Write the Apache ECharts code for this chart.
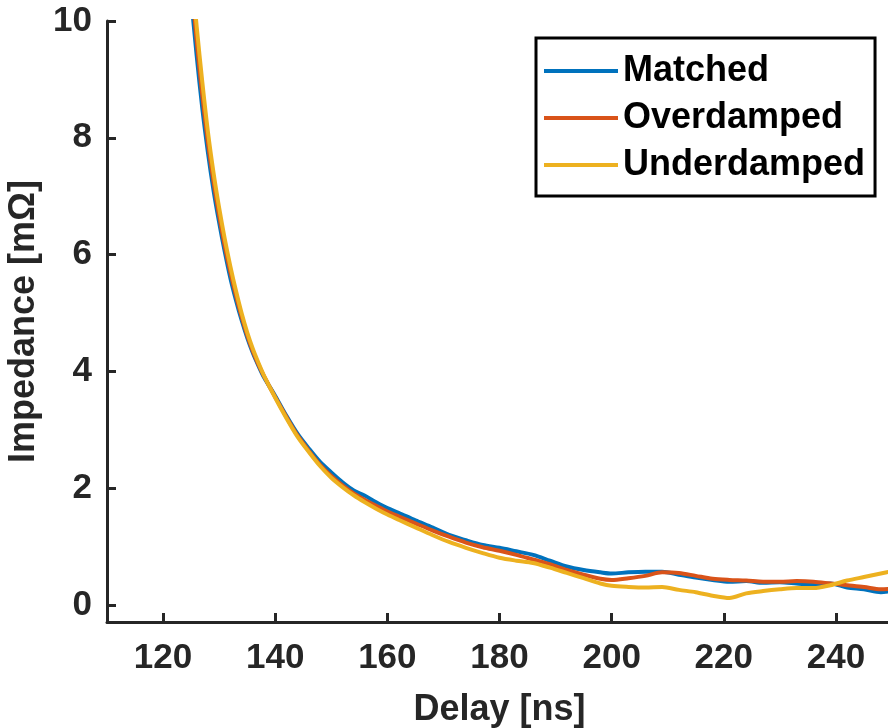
<!DOCTYPE html>
<html>
<head>
<meta charset="utf-8">
<script src="https://cdn.jsdelivr.net/npm/echarts@6/dist/echarts.min.js"></script>
<style>html,body{margin:0;padding:0;background:#fff}#c{width:888px;height:728px}</style>
</head>
<body>
<div id="c"></div>
<script>
const delay = [124,125,126,127,128,129,130,131,132,133,134,135,136,137,138,140,142,144,146,148,150,152,154,156,158,160,162,165,168,171,174,177,180,183,186,189,192,195,198,200,203,206,209,212,215,218,221,224,227,230,233,236,239,242,245,248,250];
const matched = [11.4,10.4,9.4,8.5,7.75,7.1,6.55,6.05,5.6,5.22,4.88,4.58,4.32,4.1,3.9,3.58,3.24,2.93,2.68,2.45,2.27,2.1,1.96,1.87,1.76,1.66,1.58,1.45,1.33,1.2,1.11,1.03,0.98,0.92,0.86,0.76,0.66,0.6,0.56,0.54,0.56,0.57,0.57,0.52,0.47,0.43,0.4,0.41,0.38,0.39,0.37,0.35,0.37,0.3,0.27,0.22,0.24];
const overdamped = [11.6,10.7,9.65,8.72,7.92,7.25,6.67,6.15,5.7,5.3,4.94,4.62,4.35,4.12,3.92,3.56,3.22,2.9,2.64,2.4,2.21,2.05,1.91,1.8,1.7,1.6,1.52,1.4,1.28,1.17,1.07,0.99,0.93,0.86,0.78,0.7,0.6,0.52,0.45,0.43,0.46,0.5,0.56,0.55,0.5,0.45,0.43,0.42,0.4,0.4,0.41,0.4,0.37,0.34,0.31,0.27,0.28];
const underdamped = [12.1,10.95,9.9,8.95,8.1,7.4,6.8,6.27,5.8,5.38,5.0,4.67,4.39,4.15,3.93,3.55,3.2,2.88,2.62,2.38,2.18,2.02,1.88,1.76,1.65,1.55,1.46,1.33,1.2,1.08,0.98,0.89,0.81,0.76,0.72,0.64,0.55,0.46,0.37,0.33,0.31,0.3,0.31,0.26,0.22,0.16,0.12,0.2,0.24,0.27,0.29,0.29,0.34,0.42,0.48,0.54,0.58];
const xTicks = [120,140,160,180,200,220,240];
const yTicks = [0,2,4,6,8,10];
const seriesNames = ['Matched','Overdamped','Underdamped'];
const colors = ['#0072BD','#D95319','#EDB120'];

const pairs = arr => delay.map((d,i)=>[d, arr[i]]);
const axisCol = '#262626';
const font = 'Liberation Sans, Arial, sans-serif';

const chart = echarts.init(document.getElementById('c'), null, {renderer:'canvas'});
chart.setOption({
  animation:false,
  backgroundColor:'#ffffff',
  color:colors,
  grid:{left:107, top:21, width:785, height:601, containLabel:false, outerBoundsMode:'none'},
  xAxis:{
    type:'value', min:110, max:250,
    name:'Delay [ns]', nameLocation:'middle', nameGap:70,
    nameTextStyle:{fontFamily:font, fontWeight:'bold', fontSize:36, color:axisCol},
    axisLine:{onZero:false, lineStyle:{color:axisCol, width:3}},
    axisTick:{inside:true, length:9, lineStyle:{color:axisCol, width:3}, customValues:xTicks},
    axisLabel:{customValues:xTicks, fontFamily:font, fontWeight:'bold', fontSize:35, color:axisCol, margin:19},
    splitLine:{show:false}
  },
  yAxis:{
    type:'value', min:-0.29, max:10,
    name:'Impedance [mΩ]', nameLocation:'middle', nameGap:62, nameRotate:90,
    nameTextStyle:{fontFamily:font, fontWeight:'bold', fontSize:36, color:axisCol},
    axisLine:{show:true, onZero:false, lineStyle:{color:axisCol, width:3}},
    axisTick:{show:true, inside:true, length:9, lineStyle:{color:axisCol, width:3}, customValues:yTicks},
    axisLabel:{customValues:yTicks, fontFamily:font, fontWeight:'bold', fontSize:35, color:axisCol, margin:15},
    splitLine:{show:false}
  },
  legend:{
    orient:'vertical', left:536, top:38,
    data:seriesNames,
    icon:'rect', itemWidth:74, itemHeight:4, itemGap:7,
    borderColor:'#000', borderWidth:3, backgroundColor:'#fff',
    padding:[13,10,11,8],
    textStyle:{fontFamily:font, fontWeight:'bold', fontSize:36, color:'#000', lineHeight:40}
  },
  series:[
    {name:seriesNames[0], type:'line', data:pairs(matched), showSymbol:false, symbol:'none', smooth:0.3, lineStyle:{width:4, color:colors[0]}, itemStyle:{color:colors[0]}, z:2},
    {name:seriesNames[1], type:'line', data:pairs(overdamped), showSymbol:false, symbol:'none', smooth:0.3, lineStyle:{width:4, color:colors[1]}, itemStyle:{color:colors[1]}, z:3},
    {name:seriesNames[2], type:'line', data:pairs(underdamped), showSymbol:false, symbol:'none', smooth:0.3, lineStyle:{width:4, color:colors[2]}, itemStyle:{color:colors[2]}, z:4}
  ]
});
</script>
</body>
</html>
